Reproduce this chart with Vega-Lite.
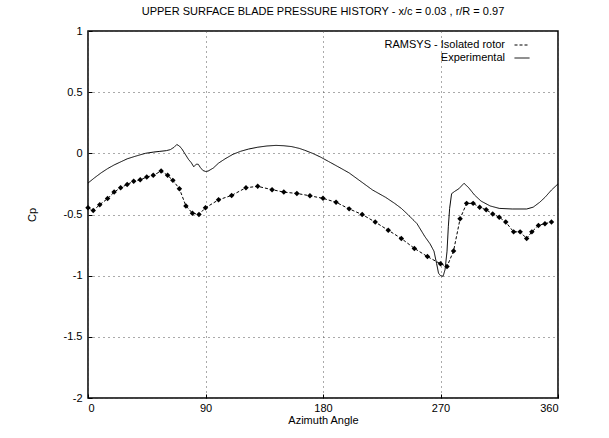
{
  "$schema": "https://vega.github.io/schema/vega-lite/v6.json",
  "width": 470,
  "height": 367,
  "autosize": {"type": "none"},
  "padding": {"left": 88, "top": 31, "right": 51, "bottom": 40},
  "background": "white",
  "title": {
    "text": "UPPER SURFACE BLADE PRESSURE HISTORY - x/c = 0.03 , r/R = 0.97",
    "font": "Liberation Sans",
    "fontSize": 11,
    "fontWeight": "normal",
    "color": "black",
    "offset": 8
  },
  "config": {
    "view": {"stroke": "black", "strokeWidth": 1.5},
    "axis": {
      "labelFont": "Liberation Sans",
      "labelFontSize": 11,
      "labelColor": "black",
      "titleFont": "Liberation Sans",
      "titleFontSize": 11,
      "titleFontWeight": "normal",
      "titleColor": "black",
      "domain": false,
      "ticks": true,
      "tickSize": -4,
      "tickColor": "black",
      "grid": true,
      "gridColor": "#555",
      "gridDash": [1, 4],
      "gridWidth": 1,
      "labelExpr": "'' + datum.value"
    },
    "legend": {
      "labelFont": "Liberation Sans",
      "labelFontSize": 11,
      "labelColor": "black"
    }
  },
  "datasets": {
    "experimental": [
      {"azimuth": 0, "cp": -0.243, "series": "Experimental"},
      {"azimuth": 5, "cp": -0.2, "series": "Experimental"},
      {"azimuth": 10, "cp": -0.16, "series": "Experimental"},
      {"azimuth": 15, "cp": -0.125, "series": "Experimental"},
      {"azimuth": 20, "cp": -0.095, "series": "Experimental"},
      {"azimuth": 25, "cp": -0.07, "series": "Experimental"},
      {"azimuth": 30, "cp": -0.045, "series": "Experimental"},
      {"azimuth": 35, "cp": -0.028, "series": "Experimental"},
      {"azimuth": 40, "cp": -0.012, "series": "Experimental"},
      {"azimuth": 44, "cp": 0.0, "series": "Experimental"},
      {"azimuth": 50, "cp": 0.01, "series": "Experimental"},
      {"azimuth": 55, "cp": 0.016, "series": "Experimental"},
      {"azimuth": 60, "cp": 0.022, "series": "Experimental"},
      {"azimuth": 63, "cp": 0.03, "series": "Experimental"},
      {"azimuth": 66, "cp": 0.05, "series": "Experimental"},
      {"azimuth": 68, "cp": 0.072, "series": "Experimental"},
      {"azimuth": 70, "cp": 0.06, "series": "Experimental"},
      {"azimuth": 72, "cp": 0.035, "series": "Experimental"},
      {"azimuth": 75, "cp": -0.016, "series": "Experimental"},
      {"azimuth": 77, "cp": -0.05, "series": "Experimental"},
      {"azimuth": 79, "cp": -0.075, "series": "Experimental"},
      {"azimuth": 81, "cp": -0.11, "series": "Experimental"},
      {"azimuth": 83, "cp": -0.088, "series": "Experimental"},
      {"azimuth": 84.5, "cp": -0.09, "series": "Experimental"},
      {"azimuth": 86, "cp": -0.115, "series": "Experimental"},
      {"azimuth": 88, "cp": -0.14, "series": "Experimental"},
      {"azimuth": 90, "cp": -0.148, "series": "Experimental"},
      {"azimuth": 92, "cp": -0.145, "series": "Experimental"},
      {"azimuth": 96, "cp": -0.12, "series": "Experimental"},
      {"azimuth": 100, "cp": -0.08, "series": "Experimental"},
      {"azimuth": 105, "cp": -0.045, "series": "Experimental"},
      {"azimuth": 111, "cp": -0.008, "series": "Experimental"},
      {"azimuth": 117, "cp": 0.017, "series": "Experimental"},
      {"azimuth": 123, "cp": 0.035, "series": "Experimental"},
      {"azimuth": 130, "cp": 0.05, "series": "Experimental"},
      {"azimuth": 137, "cp": 0.06, "series": "Experimental"},
      {"azimuth": 144, "cp": 0.065, "series": "Experimental"},
      {"azimuth": 150, "cp": 0.062, "series": "Experimental"},
      {"azimuth": 156, "cp": 0.055, "series": "Experimental"},
      {"azimuth": 162, "cp": 0.04, "series": "Experimental"},
      {"azimuth": 166, "cp": 0.025, "series": "Experimental"},
      {"azimuth": 172, "cp": 0.0, "series": "Experimental"},
      {"azimuth": 178, "cp": -0.03, "series": "Experimental"},
      {"azimuth": 184, "cp": -0.065, "series": "Experimental"},
      {"azimuth": 193, "cp": -0.118, "series": "Experimental"},
      {"azimuth": 200, "cp": -0.16, "series": "Experimental"},
      {"azimuth": 209, "cp": -0.23, "series": "Experimental"},
      {"azimuth": 218, "cp": -0.3, "series": "Experimental"},
      {"azimuth": 228, "cp": -0.36, "series": "Experimental"},
      {"azimuth": 235, "cp": -0.41, "series": "Experimental"},
      {"azimuth": 240, "cp": -0.45, "series": "Experimental"},
      {"azimuth": 245, "cp": -0.5, "series": "Experimental"},
      {"azimuth": 252, "cp": -0.575, "series": "Experimental"},
      {"azimuth": 258, "cp": -0.68, "series": "Experimental"},
      {"azimuth": 262, "cp": -0.74, "series": "Experimental"},
      {"azimuth": 265, "cp": -0.8, "series": "Experimental"},
      {"azimuth": 267, "cp": -0.9, "series": "Experimental"},
      {"azimuth": 268.5, "cp": -0.98, "series": "Experimental"},
      {"azimuth": 270, "cp": -1.0, "series": "Experimental"},
      {"azimuth": 272, "cp": -1.005, "series": "Experimental"},
      {"azimuth": 273.5, "cp": -0.95, "series": "Experimental"},
      {"azimuth": 275, "cp": -0.8, "series": "Experimental"},
      {"azimuth": 276, "cp": -0.6, "series": "Experimental"},
      {"azimuth": 277, "cp": -0.45, "series": "Experimental"},
      {"azimuth": 278.5, "cp": -0.33, "series": "Experimental"},
      {"azimuth": 281, "cp": -0.31, "series": "Experimental"},
      {"azimuth": 284, "cp": -0.29, "series": "Experimental"},
      {"azimuth": 288, "cp": -0.245, "series": "Experimental"},
      {"azimuth": 291.5, "cp": -0.28, "series": "Experimental"},
      {"azimuth": 296, "cp": -0.34, "series": "Experimental"},
      {"azimuth": 301, "cp": -0.39, "series": "Experimental"},
      {"azimuth": 308, "cp": -0.43, "series": "Experimental"},
      {"azimuth": 315, "cp": -0.45, "series": "Experimental"},
      {"azimuth": 325, "cp": -0.455, "series": "Experimental"},
      {"azimuth": 336, "cp": -0.455, "series": "Experimental"},
      {"azimuth": 341, "cp": -0.44, "series": "Experimental"},
      {"azimuth": 346, "cp": -0.4, "series": "Experimental"},
      {"azimuth": 350, "cp": -0.36, "series": "Experimental"},
      {"azimuth": 355, "cp": -0.3, "series": "Experimental"},
      {"azimuth": 360, "cp": -0.25, "series": "Experimental"}
    ],
    "ramsys": [
      {"azimuth": 0, "cp": -0.445, "series": "RAMSYS - Isolated rotor"},
      {"azimuth": 4, "cp": -0.467, "series": "RAMSYS - Isolated rotor"},
      {"azimuth": 9, "cp": -0.42, "series": "RAMSYS - Isolated rotor"},
      {"azimuth": 15, "cp": -0.37, "series": "RAMSYS - Isolated rotor"},
      {"azimuth": 20, "cp": -0.317, "series": "RAMSYS - Isolated rotor"},
      {"azimuth": 25, "cp": -0.281, "series": "RAMSYS - Isolated rotor"},
      {"azimuth": 30, "cp": -0.254, "series": "RAMSYS - Isolated rotor"},
      {"azimuth": 35, "cp": -0.229, "series": "RAMSYS - Isolated rotor"},
      {"azimuth": 40, "cp": -0.216, "series": "RAMSYS - Isolated rotor"},
      {"azimuth": 45, "cp": -0.194, "series": "RAMSYS - Isolated rotor"},
      {"azimuth": 50, "cp": -0.18, "series": "RAMSYS - Isolated rotor"},
      {"azimuth": 56, "cp": -0.145, "series": "RAMSYS - Isolated rotor"},
      {"azimuth": 61, "cp": -0.18, "series": "RAMSYS - Isolated rotor"},
      {"azimuth": 65, "cp": -0.221, "series": "RAMSYS - Isolated rotor"},
      {"azimuth": 70, "cp": -0.289, "series": "RAMSYS - Isolated rotor"},
      {"azimuth": 75, "cp": -0.43, "series": "RAMSYS - Isolated rotor"},
      {"azimuth": 80, "cp": -0.489, "series": "RAMSYS - Isolated rotor"},
      {"azimuth": 85, "cp": -0.5, "series": "RAMSYS - Isolated rotor"},
      {"azimuth": 90, "cp": -0.445, "series": "RAMSYS - Isolated rotor"},
      {"azimuth": 100, "cp": -0.38, "series": "RAMSYS - Isolated rotor"},
      {"azimuth": 110, "cp": -0.344, "series": "RAMSYS - Isolated rotor"},
      {"azimuth": 121, "cp": -0.281, "series": "RAMSYS - Isolated rotor"},
      {"azimuth": 130, "cp": -0.27, "series": "RAMSYS - Isolated rotor"},
      {"azimuth": 141, "cp": -0.297, "series": "RAMSYS - Isolated rotor"},
      {"azimuth": 150, "cp": -0.317, "series": "RAMSYS - Isolated rotor"},
      {"azimuth": 160, "cp": -0.328, "series": "RAMSYS - Isolated rotor"},
      {"azimuth": 170, "cp": -0.347, "series": "RAMSYS - Isolated rotor"},
      {"azimuth": 180, "cp": -0.368, "series": "RAMSYS - Isolated rotor"},
      {"azimuth": 190, "cp": -0.4, "series": "RAMSYS - Isolated rotor"},
      {"azimuth": 200, "cp": -0.454, "series": "RAMSYS - Isolated rotor"},
      {"azimuth": 210, "cp": -0.5, "series": "RAMSYS - Isolated rotor"},
      {"azimuth": 220, "cp": -0.562, "series": "RAMSYS - Isolated rotor"},
      {"azimuth": 230, "cp": -0.629, "series": "RAMSYS - Isolated rotor"},
      {"azimuth": 240, "cp": -0.696, "series": "RAMSYS - Isolated rotor"},
      {"azimuth": 250, "cp": -0.777, "series": "RAMSYS - Isolated rotor"},
      {"azimuth": 260, "cp": -0.844, "series": "RAMSYS - Isolated rotor"},
      {"azimuth": 270, "cp": -0.903, "series": "RAMSYS - Isolated rotor"},
      {"azimuth": 275, "cp": -0.925, "series": "RAMSYS - Isolated rotor"},
      {"azimuth": 280, "cp": -0.798, "series": "RAMSYS - Isolated rotor"},
      {"azimuth": 285, "cp": -0.535, "series": "RAMSYS - Isolated rotor"},
      {"azimuth": 290, "cp": -0.409, "series": "RAMSYS - Isolated rotor"},
      {"azimuth": 295, "cp": -0.409, "series": "RAMSYS - Isolated rotor"},
      {"azimuth": 300, "cp": -0.441, "series": "RAMSYS - Isolated rotor"},
      {"azimuth": 305, "cp": -0.462, "series": "RAMSYS - Isolated rotor"},
      {"azimuth": 310, "cp": -0.495, "series": "RAMSYS - Isolated rotor"},
      {"azimuth": 315, "cp": -0.522, "series": "RAMSYS - Isolated rotor"},
      {"azimuth": 320, "cp": -0.562, "series": "RAMSYS - Isolated rotor"},
      {"azimuth": 326, "cp": -0.642, "series": "RAMSYS - Isolated rotor"},
      {"azimuth": 331, "cp": -0.642, "series": "RAMSYS - Isolated rotor"},
      {"azimuth": 336, "cp": -0.696, "series": "RAMSYS - Isolated rotor"},
      {"azimuth": 340, "cp": -0.642, "series": "RAMSYS - Isolated rotor"},
      {"azimuth": 345, "cp": -0.589, "series": "RAMSYS - Isolated rotor"},
      {"azimuth": 350, "cp": -0.575, "series": "RAMSYS - Isolated rotor"},
      {"azimuth": 355, "cp": -0.562, "series": "RAMSYS - Isolated rotor"}
    ]
  },
  "encoding": {
    "x": {
      "field": "azimuth",
      "type": "quantitative",
      "title": "Azimuth Angle",
      "scale": {"domain": [0, 360], "nice": false},
      "axis": {"values": [0, 90, 180, 270, 360], "labelPadding": 8, "titlePadding": 1}
    },
    "y": {
      "field": "cp",
      "type": "quantitative",
      "title": "Cp",
      "scale": {"domain": [-2, 1], "nice": false},
      "axis": {"values": [-2, -1.5, -1, -0.5, 0, 0.5, 1], "labelPadding": 10, "titlePadding": 26}
    }
  },
  "layer": [
    {
      "data": {"name": "experimental"},
      "mark": {"type": "line", "color": "black", "strokeWidth": 1, "clip": true},
      "encoding": {
        "strokeDash": {
          "field": "series",
          "type": "nominal",
          "scale": {"domain": ["RAMSYS - Isolated rotor", "Experimental"], "range": [[3, 2], [1, 0]]},
          "legend": {
            "title": null,
            "orient": "none",
            "legendX": 426,
            "legendY": 6,
            "symbolType": "stroke",
            "symbolSize": 225,
            "symbolStrokeColor": "black",
            "symbolStrokeWidth": 1,
            "rowPadding": 0,
            "labelAlign": "right",
            "labelOffset": -25,
            "padding": 0
          }
        }
      }
    },
    {
      "data": {"name": "ramsys"},
      "mark": {"type": "line", "color": "black", "strokeWidth": 1},
      "encoding": {
        "strokeDash": {"field": "series", "type": "nominal"}
      }
    },
    {
      "data": {"name": "ramsys"},
      "mark": {"type": "point", "shape": "diamond", "filled": true, "color": "black", "size": 30, "opacity": 1},
      "encoding": {}
    }
  ]
}
